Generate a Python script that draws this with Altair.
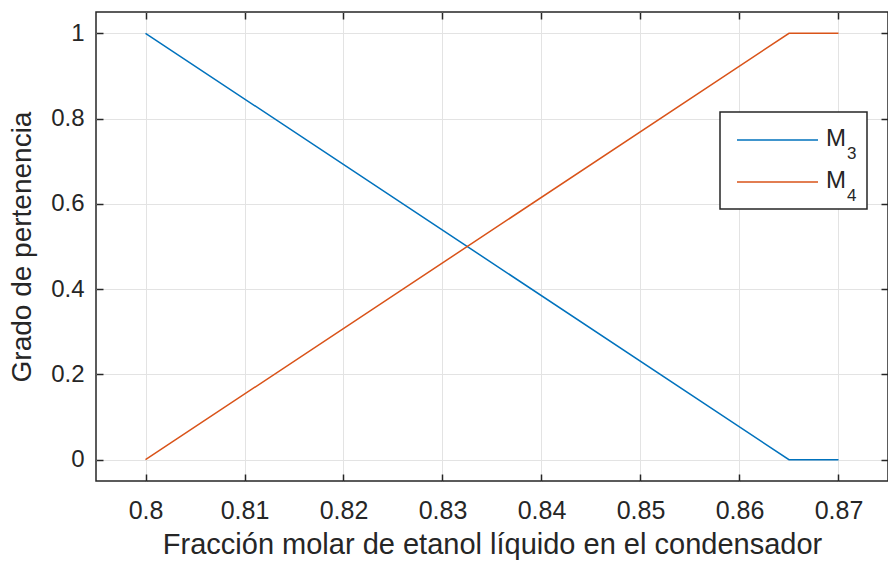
import altair as alt
import pandas as pd

# Membership functions of the two fuzzy sets
x_vals = [0.80, 0.865, 0.87]
m3_vals = [1.0, 0.0, 0.0]
m4_vals = [0.0, 1.0, 1.0]
series_names = ["M3", "M4"]
series_colors = ["#0072BD", "#D95319"]
x_ticks = [0.80, 0.81, 0.82, 0.83, 0.84, 0.85, 0.86, 0.87]
y_ticks = [0, 0.2, 0.4, 0.6, 0.8, 1.0]

df = pd.concat([
    pd.DataFrame({"x": x_vals, "y": m3_vals, "serie": series_names[0]}),
    pd.DataFrame({"x": x_vals, "y": m4_vals, "serie": series_names[1]}),
])

FONT = "Liberation Sans"
INK = "#262626"
W, H = 792, 469
TICK = 7

x_scale = alt.Scale(domain=[0.795, 0.875], nice=False, zero=False)
y_scale = alt.Scale(domain=[-0.05, 1.05], nice=False, zero=False)
color_scale = alt.Scale(domain=series_names, range=series_colors)

lines = alt.Chart(df).mark_line(strokeWidth=1.5, clip=True).encode(
    x=alt.X("x:Q", scale=x_scale,
            axis=alt.Axis(values=x_ticks, format=".2~f", grid=True, domain=False,
                          tickSize=TICK, offset=-TICK, labelPadding=17,
                          labelFontSize=25,
                          title="Fracción molar de etanol líquido en el condensador",
                          titleFontSize=29, titlePadding=7)),
    y=alt.Y("y:Q", scale=y_scale,
            axis=alt.Axis(values=y_ticks, format="~g", grid=True, domain=False,
                          tickSize=TICK, offset=-TICK, labelPadding=12,
                          labelFontSize=24,
                          title="Grado de pertenencia", titleFontSize=28,
                          titlePadding=14)),
    color=alt.Color("serie:N", scale=color_scale, legend=None),
)

# mirrored ticks on the top and right edges of the box
mirror = alt.Chart(df).mark_line(opacity=0).encode(
    x=alt.X("x:Q", scale=x_scale,
            axis=alt.Axis(orient="top", values=x_ticks, labels=False, grid=False,
                          domain=False, tickSize=TICK, offset=-TICK, title=None)),
    y=alt.Y("y:Q", scale=y_scale,
            axis=alt.Axis(orient="right", values=y_ticks, labels=False, grid=False,
                          domain=False, tickSize=TICK, offset=-TICK, title=None)),
    detail="serie:N",
)

one = pd.DataFrame({"k": [0]})

# legend box
legend_box = alt.Chart(one).mark_rect(fill="white", stroke=INK, strokeWidth=1.5).encode(
    x=alt.value(624), x2=alt.value(771), y=alt.value(100), y2=alt.value(197)
)

legend_layers = [legend_box]
for i, (name, col) in enumerate(zip(series_names, series_colors)):
    yy = 128 + 42 * i
    legend_layers.append(
        alt.Chart(one).mark_rule(color=col, strokeWidth=1.5).encode(
            x=alt.value(641), x2=alt.value(722), y=alt.value(yy)
        )
    )
    legend_layers.append(
        alt.Chart(one).mark_text(text=name[0], font=FONT, fontSize=24, color=INK,
                                 align="left", baseline="alphabetic").encode(
            x=alt.value(730), y=alt.value(yy + 6)
        )
    )
    legend_layers.append(
        alt.Chart(one).mark_text(text=name[1:], font=FONT, fontSize=17, color=INK,
                                 align="left", baseline="alphabetic").encode(
            x=alt.value(751), y=alt.value(yy + 19)
        )
    )

chart = alt.layer(lines, mirror, *legend_layers).resolve_axis(
    x="independent", y="independent"
).properties(
    width=W, height=H,
    padding={"left": 96, "top": 12, "right": 0, "bottom": 84},
    autosize=alt.AutoSizeParams(type="none"),
    background="white",
).configure_view(
    stroke=INK, strokeWidth=1.5
).configure_axis(
    labelFont=FONT, labelColor=INK,
    titleFont=FONT, titleColor=INK, titleFontWeight="normal",
    tickColor=INK, tickWidth=1.5,
    gridColor="#e3e3e3", gridWidth=1, gridOpacity=1,
)

chart.save("out.html", embed_options={"renderer": "svg", "actions": False})
